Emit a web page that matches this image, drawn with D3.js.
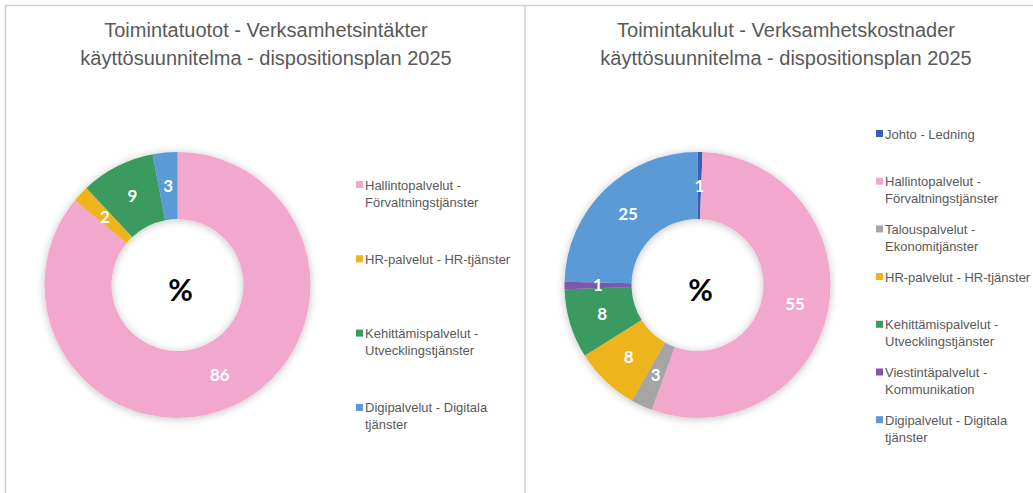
<!DOCTYPE html>
<html><head><meta charset="utf-8">
<script src="https://cdn.jsdelivr.net/npm/d3@7/dist/d3.min.js"></script>
<style>body{margin:0;background:#fff}svg{display:block}</style>
</head><body>
<svg id="c" width="1033" height="493"></svg>
<script>
// ---- data ----
const leftTitle = ["Toimintatuotot - Verksamhetsintäkter", "käyttösuunnitelma - dispositionsplan 2025"];
const leftCategories = [
  ["Hallintopalvelut -", "Förvaltningstjänster"],
  ["HR-palvelut - HR-tjänster"],
  ["Kehittämispalvelut -", "Utvecklingstjänster"],
  ["Digipalvelut - Digitala", "tjänster"]
];
const leftValues = [86, 2, 9, 3];
const leftColors = ["#F2A8CD", "#EEB41B", "#3A9A5F", "#5A9AD6"];

const rightTitle = ["Toimintakulut - Verksamhetskostnader", "käyttösuunnitelma - dispositionsplan 2025"];
const rightCategories = [
  ["Johto - Ledning"],
  ["Hallintopalvelut -", "Förvaltningstjänster"],
  ["Talouspalvelut -", "Ekonomitjänster"],
  ["HR-palvelut - HR-tjänster"],
  ["Kehittämispalvelut -", "Utvecklingstjänster"],
  ["Viestintäpalvelut -", "Kommunikation"],
  ["Digipalvelut - Digitala", "tjänster"]
];
const rightValues = [0.6, 55.0, 2.6, 7.9, 8.4, 0.9, 24.6];
const rightColors = ["#3D5DB5", "#F2A8CD", "#A5A5A5", "#EEB41B", "#3A9A5F", "#7E55B0", "#5A9AD6"];

const centerLabel = "%";

// ---- drawing ----
const svg = d3.select("#c");
const defs = svg.append("defs");
const f = defs.append("filter").attr("id","sh").attr("x","-20%").attr("y","-20%").attr("width","140%").attr("height","140%");
f.append("feGaussianBlur").attr("in","SourceAlpha").attr("stdDeviation",4).attr("result","b");
f.append("feOffset").attr("in","b").attr("dx",0).attr("dy",1).attr("result","o");
f.append("feComponentTransfer").attr("in","o").attr("result","o2")
  .append("feFuncA").attr("type","linear").attr("slope",0.25);
const fm = f.append("feMerge");
fm.append("feMergeNode").attr("in","o2");
fm.append("feMergeNode").attr("in","SourceGraphic");

// panel borders
const border = "#d0d0d0";
svg.append("line").attr("x1",5).attr("x2",1033).attr("y1",5.5).attr("y2",5.5).attr("stroke",border).attr("stroke-width",1.5);
svg.append("line").attr("x1",5.5).attr("x2",5.5).attr("y1",5).attr("y2",493).attr("stroke",border).attr("stroke-width",1.5);
svg.append("line").attr("x1",525).attr("x2",525).attr("y1",5).attr("y2",493).attr("stroke",border).attr("stroke-width",1.5);

function drawPanel(cfg){
  const g = svg.append("g");
  // title
  g.selectAll("text.title").data(cfg.title).join("text")
    .attr("class","title")
    .attr("x", cfg.titleX)
    .attr("y", (d,i)=> 37 + i*28)
    .attr("text-anchor","middle")
    .attr("font-family","'Liberation Sans', Arial, sans-serif")
    .attr("font-size",20)
    .attr("fill","#595959")
    .text(d=>d);

  const pie = d3.pie().sort(null).value(d=>d)(cfg.values);
  const arc = d3.arc().innerRadius(cfg.r0).outerRadius(cfg.r1);
  const color = d3.scaleOrdinal().domain(d3.range(cfg.values.length)).range(cfg.colors);
  const dg = g.append("g").attr("transform",`translate(${cfg.cx},${cfg.cy})`);
  const sg = dg.append("g").attr("filter","url(#sh)");
  sg.selectAll("path").data(pie).join("path")
    .attr("d",arc)
    .attr("fill",(d,i)=>color(i));
  const larc = d3.arc().innerRadius((cfg.r0+cfg.r1)/2).outerRadius((cfg.r0+cfg.r1)/2);
  dg.selectAll("text.lbl").data(pie).join("text")
    .attr("class","lbl")
    .attr("transform",d=>`translate(${larc.centroid(d)})`)
    .attr("text-anchor","middle")
    .attr("dy","0.36em")
    .attr("font-family","Lato, 'Open Sans', sans-serif")
    .attr("font-weight","bold")
    .attr("font-size",17)
    .attr("fill","#fff")
    .text(d=>d3.format(".0f")(Math.max(1,Math.round(d.data))));
  dg.append("text")
    .attr("x",3).attr("y",5)
    .attr("text-anchor","middle")
    .attr("dy","0.36em")
    .attr("font-family","Lato, 'Open Sans', sans-serif")
    .attr("font-weight","bold")
    .attr("font-size",30)
    .attr("fill","#000")
    .text(centerLabel);

  // legend
  const y = d3.scaleLinear().domain([0,1]).range([cfg.legY0, cfg.legY0 + cfg.legStep]);
  const lg = g.selectAll("g.leg").data(cfg.categories).join("g")
    .attr("class","leg")
    .attr("transform",(d,i)=>`translate(${cfg.legX},${y(i)})`);
  lg.append("rect").attr("x",0).attr("y",-4).attr("width",7).attr("height",7)
    .attr("fill",(d,i)=>color(i));
  lg.each(function(lines){
    d3.select(this).selectAll("text").data(lines).join("text")
      .attr("x",9)
      .attr("y",(d,j)=> j*17)
      .attr("dy","0.35em")
      .attr("font-family","'Liberation Sans', Arial, sans-serif")
      .attr("font-size",13)
      .attr("fill","#595959")
      .text(d=>d);
  });
}

drawPanel({title:leftTitle, titleX:266, values:leftValues, colors:leftColors, categories:leftCategories,
  cx:177.5, cy:285, r0:66, r1:133, legX:356, legY0:185, legStep:74.3});
drawPanel({title:rightTitle, titleX:786, values:rightValues, colors:rightColors, categories:rightCategories,
  cx:697.5, cy:285, r0:66, r1:133, legX:876, legY0:134, legStep:47.7});
</script>
</body></html>
